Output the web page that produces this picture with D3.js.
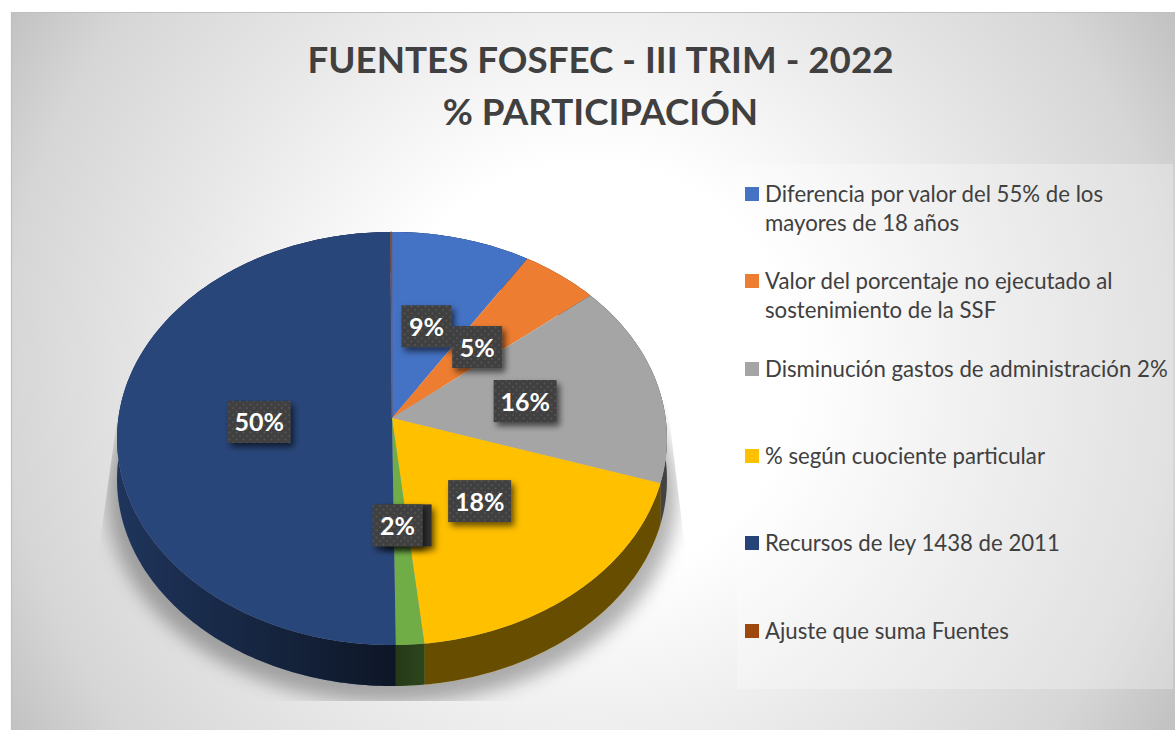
<!DOCTYPE html>
<html><head><meta charset="utf-8">
<script src="https://cdn.jsdelivr.net/npm/d3@7"></script>
<style>html,body{margin:0;padding:0;background:#fff}svg{display:block}text{font-family:Lato,sans-serif}</style>
</head><body><div id="c"></div>
<script>
const titleLines = ["FUENTES FOSFEC - III TRIM - 2022", "% PARTICIPACIÓN"];
const categories = ["Diferencia por valor del 55% de los mayores de 18 años","Valor del porcentaje no ejecutado al sostenimiento de la SSF","Disminución gastos de administración 2%","% según cuociente particular","Recursos de ley 1438 de 2011","Ajuste que suma Fuentes"];
const legendLines = [["Diferencia por valor del 55% de los","mayores de 18 años"],["Valor del porcentaje no ejecutado al","sostenimiento de la SSF"],["Disminución gastos de administración 2%"],["% según cuociente particular"],["Recursos de ley 1438 de 2011"],["Ajuste que suma Fuentes"]];
// slices in clockwise order from 12 o'clock
const sliceNames = ["Diferencia","Valor","Disminución","Cuociente","Otros","Recursos","Ajuste"];
const sliceValues = [9,5,16,18.3,1.5,50.1,0.1];
const sliceColors = ["#4472c4","#ed7d31","#a5a5a5","#ffc000","#70ad47","#29467a","#9e480e"];
const legendColors = ["#4472c4","#ed7d31","#a5a5a5","#ffc000","#264478","#9e480e"];
const labelNudgeX = [-2,-2,0,-2,-3,4,0];
const labelNudgeY = [2,3,2,0.5,0,3,0];

const W=1175,H=731;
const svg=d3.select("#c").append("svg").attr("width",W).attr("height",H);
const defs=svg.append("defs");

// background
const bg=defs.append("radialGradient").attr("id","bg").attr("gradientUnits","userSpaceOnUse")
  .attr("cx",590).attr("cy",370).attr("r",690);
[[0,"#ffffff"],[0.3,"#ffffff"],[0.6,"#e8e8e8"],[0.85,"#d6d6d6"],[1,"#c0c0c0"]].forEach(s=>bg.append("stop").attr("offset",s[0]).attr("stop-color",s[1]));
svg.append("rect").attr("x",11).attr("y",12).attr("width",W-11).attr("height",H-13).attr("fill","url(#bg)");
svg.append("path").attr("d",`M11.5 730V12.5H${W}`).attr("fill","none").attr("stroke","#bfbfbf").attr("stroke-width",1.2);

// title
svg.selectAll("text.t").data(titleLines).join("text").attr("class","t")
  .attr("x",600.5).attr("y",(d,i)=>72.5+i*52).attr("text-anchor","middle")
  .attr("font-size",36.75).attr("font-weight",700).attr("fill","#404040").text(d=>d);

// legend
svg.append("rect").attr("x",737).attr("y",164).attr("width",436).attr("height",525).attr("fill","#fff").attr("fill-opacity",0.28);
let ly=[194,281,369,456,543,631];
const lg=svg.selectAll("g.l").data(categories).join("g").attr("class","l");
lg.append("rect").attr("x",745).attr("y",(d,i)=>ly[i]-7).attr("width",14).attr("height",14).attr("fill",(d,i)=>legendColors[i]);
lg.each(function(d,i){
  d3.select(this).selectAll("text").data(legendLines[i]).join("text")
    .attr("x",765).attr("y",(t,j)=>ly[i]+7.6+j*29).attr("font-size",22.2).attr("fill","#404040").text(t=>t);
});

// pie projection
const cx=392,cy=418,A=273.6,h=204.5,k=0.0993,depth=41;
const sx=d3.scaleLinear().domain([-1,1]).range([cx-A,cx+A]);
const sy=d3.scaleLinear().domain([-1,1]).range([cy-h,cy+h]);
const proj=(a,r=1,dz=0)=>{const x=r*Math.sin(a),y=-r*Math.cos(a),w=1-k*y;return [sx(x/w),sy(y/w)+dz];};
const pie=d3.pie().sort(null).value(d=>d)(sliceValues);
const line=d3.line();
const rim=(a0,a1,dz=0)=>{const n=Math.max(2,Math.ceil((a1-a0)*60));return d3.range(n+1).map(i=>proj(a0+(a1-a0)*i/n,1,dz));};

// shadow
const blur=defs.append("filter").attr("id","blur").attr("x","-20%").attr("y","-20%").attr("width","140%").attr("height","140%");
blur.append("feGaussianBlur").attr("stdDeviation",9);
const sc=defs.append("clipPath").attr("id","sc");
sc.append("path").attr("d","M124 370L98 556L98 701H686V556L667 400Z");
const sg=svg.append("g").attr("clip-path","url(#sc)");
sg.append("path").attr("d",line(rim(0,2*Math.PI,58).map(p=>[cx+(p[0]-cx)*1.035,p[1]]))+"Z").attr("fill","#000").attr("fill-opacity",0.3).attr("filter","url(#blur)");

// sides
const sideShade=defs.append("linearGradient").attr("id","side").attr("gradientUnits","userSpaceOnUse").attr("x1",117).attr("x2",667).attr("y1",0).attr("y2",0);
[[0,0.25],[0.5,0.68],[0.56,0.6],[1,0.6]].forEach(s=>sideShade.append("stop").attr("offset",s[0]).attr("stop-color","#000").attr("stop-opacity",s[1]));
const sideD=d=>{const t=rim(d.startAngle,d.endAngle);const b=rim(d.startAngle,d.endAngle,depth).reverse();return line(t.concat(b))+"Z";};
svg.selectAll("path.s").data(pie).join("path").attr("class","s").attr("d",sideD).attr("fill",(d,i)=>sliceColors[i]);
svg.selectAll("path.ss").data(pie).join("path").attr("class","ss").attr("d",sideD).attr("fill","url(#side)");
// tops
svg.selectAll("path.p").data(pie).join("path").attr("class","p")
  .attr("d",d=>line([[cx,cy]].concat(rim(d.startAngle,d.endAngle)))+"Z")
  .attr("fill",(d,i)=>sliceColors[i]).attr("stroke",(d,i)=>i==6?"#6e5a66":"none").attr("stroke-width",0.7);

// labels
const pat=defs.append("pattern").attr("id","dots").attr("patternUnits","userSpaceOnUse").attr("width",7).attr("height",7);
pat.append("rect").attr("width",7).attr("height",7).attr("fill","#404040");
pat.append("circle").attr("cx",2).attr("cy",2).attr("r",0.9).attr("fill","#575757");
pat.append("circle").attr("cx",5.5).attr("cy",5.5).attr("r",0.9).attr("fill","#575757");
const ds=defs.append("filter").attr("id","ds").attr("x","-30%").attr("y","-30%").attr("width","170%").attr("height","170%");
ds.append("feDropShadow").attr("dx",3).attr("dy",4).attr("stdDeviation",3).attr("flood-color","#000").attr("flood-opacity",0.6);
const fmt=v=>Math.round(v)+"%";
const lab=pie.map((d,i)=>{const p=proj((d.startAngle+d.endAngle)/2,0.5);return {v:d.value,x:p[0]+labelNudgeX[i],y:p[1]+labelNudgeY[i],i};}).filter(d=>d.v>=1);
const boxW=d=>fmt(d.v).length>2?63:50;
// hidden label behind the 2% one
const hid=lab.find(d=>d.v<2);
svg.append("rect").attr("x",hid.x-25+9).attr("y",hid.y-21).attr("width",50).attr("height",42).attr("fill","#333").attr("filter","url(#ds)");
const lb=svg.selectAll("g.b").data(lab).join("g").attr("class","b");
lb.append("rect").attr("x",d=>d.x-boxW(d)/2).attr("y",d=>d.y-21).attr("width",boxW).attr("height",42).attr("fill","url(#dots)").attr("filter","url(#ds)");
lb.append("text").attr("x",d=>d.x).attr("y",d=>d.y+9.5).attr("text-anchor","middle").attr("font-size",25).attr("font-weight",700).attr("fill","#fff").text(d=>fmt(d.v));
</script></body></html>
